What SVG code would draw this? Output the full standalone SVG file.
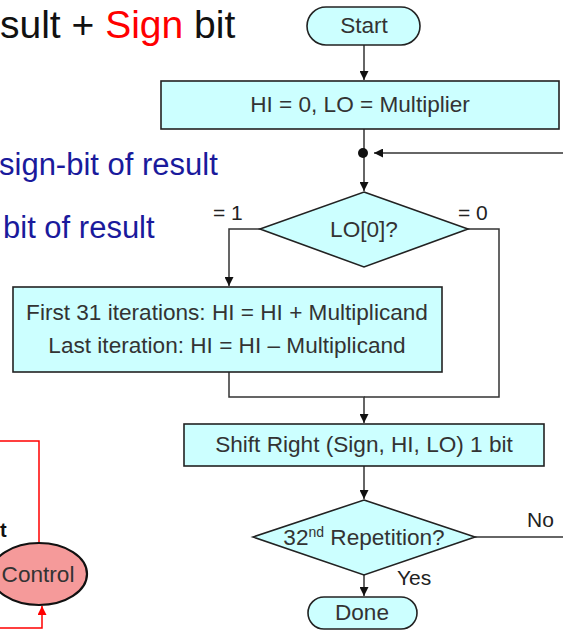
<svg xmlns="http://www.w3.org/2000/svg" width="563" height="632" viewBox="0 0 563 632">
<defs>
<marker id="ah" viewBox="0 0 10 10" refX="10" refY="5" markerWidth="9" markerHeight="9" markerUnits="userSpaceOnUse" orient="auto">
<path d="M0,0 L10,5 L0,10 z" fill="#111"/>
</marker>
<marker id="ahr" viewBox="0 0 10 10" refX="10" refY="5" markerWidth="9" markerHeight="9" markerUnits="userSpaceOnUse" orient="auto">
<path d="M0,0 L10,5 L0,10 z" fill="#ff0000"/>
</marker>
</defs>
<style>
.box{fill:#ccffff;stroke:#222;stroke-width:1.6}
.t{font-family:"Liberation Sans",Arial,sans-serif;font-size:22.6px;fill:#333;text-anchor:middle}
.lab{font-family:"Liberation Sans",Arial,sans-serif;font-size:21px;fill:#222}
.big{font-family:"Liberation Sans",Arial,sans-serif;font-size:31px;fill:#1a1a9c}
.c{fill:none;stroke:#333;stroke-width:1.5}
.r{fill:none;stroke:#ff0000;stroke-width:1.5}
</style>
<rect width="563" height="632" fill="#fff"/>
<g id="title"><text x="0" y="38" font-family="Liberation Sans, Arial, sans-serif" font-size="39" fill="#111">sult + <tspan fill="#ff0000">Sign</tspan> bit</text></g>
<g id="side-text">
<text class="big" x="-1" y="175">sign-bit of result</text>
<text class="big" x="3" y="238" font-size="32">bit of result</text>
<text x="0" y="537" font-family="Liberation Sans, Arial, sans-serif" font-size="20" font-weight="bold" fill="#111">t</text>
</g>
<g id="connectors">
<line class="c" x1="364" y1="45" x2="364" y2="80" marker-end="url(#ah)"/>
<line class="c" x1="364" y1="129" x2="364" y2="191" marker-end="url(#ah)"/>
<line class="c" x1="563" y1="153" x2="374" y2="153" marker-end="url(#ah)"/>
<polyline class="c" points="260,229 229,229 229,286" marker-end="url(#ah)"/>
<polyline class="c" points="468,229 499,229 499,397 364,397"/>
<polyline class="c" points="229,372 229,397 364,397 364,423" marker-end="url(#ah)"/>
<line class="c" x1="364" y1="466" x2="364" y2="499" marker-end="url(#ah)"/>
<line class="c" x1="475" y1="537" x2="563" y2="537"/>
<line class="c" x1="364" y1="575" x2="364" y2="596" marker-end="url(#ah)"/>
<polyline class="r" points="0,441 39,441 39,543"/>
<polyline class="r" points="0,628 42,628 42,606" marker-end="url(#ahr)"/>
</g>
<g id="junction"><circle cx="363" cy="153" r="5" fill="#111"/></g>
<g id="start"><rect class="box" x="307" y="7" width="113" height="38" rx="19"/><text class="t" x="364" y="33">Start</text></g>
<g id="init"><rect class="box" x="161" y="81" width="398" height="48"/><text class="t" x="360" y="112">HI = 0, LO = Multiplier</text></g>
<g id="test"><polygon class="box" points="364,192 468,229 364,267 260,229"/><text class="t" x="364" y="237">LO[0]?</text>
<text class="lab" x="213" y="220">= 1</text><text class="lab" x="458" y="220">= 0</text></g>
<g id="add"><rect class="box" x="13" y="287" width="429" height="85"/>
<text class="t" x="227" y="320">First 31 iterations: HI = HI + Multiplicand</text>
<text class="t" x="227" y="353">Last iteration: HI = HI – Multiplicand</text></g>
<g id="shift"><rect class="box" x="184" y="424" width="360" height="42"/><text class="t" x="364" y="452">Shift Right (Sign, HI, LO) 1 bit</text></g>
<g id="rep"><polygon class="box" points="364,500 475,537 364,575 253,537"/>
<text class="t" x="364" y="545">32<tspan font-size="14" dy="-8">nd</tspan><tspan dy="8"> Repetition?</tspan></text>
<text class="lab" x="527" y="527">No</text><text class="lab" x="397" y="585">Yes</text></g>
<g id="done"><rect class="box" x="308" y="597" width="109" height="32" rx="16"/><text class="t" x="362" y="620">Done</text></g>
<g id="control"><ellipse cx="39" cy="574" rx="48" ry="31" fill="#f59a9a" stroke="#111" stroke-width="2.2"/><text class="t" x="38" y="582" fill="#222" font-size="22">Control</text></g>
</svg>
